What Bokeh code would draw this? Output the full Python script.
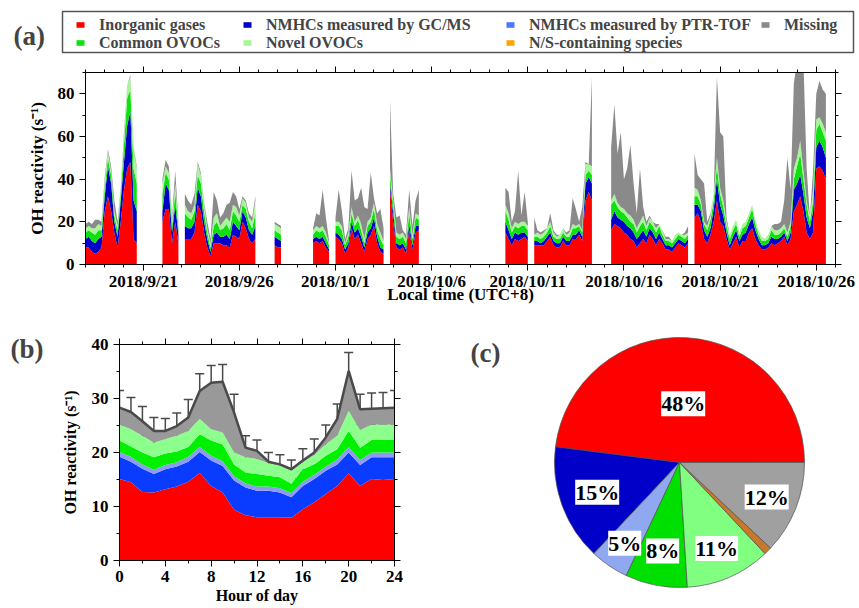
import numpy as np
import pandas as pd
from bokeh.plotting import figure
from bokeh.layouts import column, row
from bokeh.models import (ColumnDataSource, Range1d, LinearAxis, FixedTicker,
                          Legend, LegendItem, Label, LabelSet, Whisker, TeeHead)
from bokeh.transform import cumsum
from bokeh.embed import file_html
from bokeh.resources import INLINE

_ = None
START = pd.Timestamp("2018-09-18 00:00")
SAMPLES_PER_DAY = 6  # 4-hourly values

# ---------------------------------------------------------------------------
# (a) time series: cumulative OH reactivity (s-1), one row per day (00,04,...,20 h)
# ---------------------------------------------------------------------------
lvl_inorganic = [
    8, 8, 6, 5, 6, 8,          # 9/18
    25, 32, 25, 15, 8, 20,     # 9/19
    35, 45, 48, 12, 10, _,     # 9/20
    _, _, _, _, _, _,          # 9/21
    20, 26, 26, 10, 20, 10,    # 9/22
    _, 12, 12, 12, 15, 28,     # 9/23
    25, 15, 8, 4, 10, 10,      # 9/24
    10, 9, 9, 8, 14, 13,       # 9/25
    12, 20, 17, 12, 10, 12,    # 9/26
    _, _, _, _, _, 9,          # 9/27
    8, 8, _, _, _, _,          # 9/28
    _, _, _, _, _, 10,         # 9/29
    11, 10, 11, 8, 6, _,       # 9/30
    13, 12, 10, 5, 8, 17,      # 10/1
    12, 14, 10, 6, 12, 14,     # 10/2
    18, 10, 6, 5, _, 35,       # 10/3
    20, 8, 7, 8, 5, 16,        # 10/4
    7, 15, 16, _, _, _,        # 10/5
    _, _, _, _, _, _,          # 10/6
    _, _, _, _, _, _,          # 10/7
    _, _, _, _, _, _,          # 10/8
    _, _, _, _, _, 15,         # 10/9
    12, 9, 12, 11, 12, 13,     # 10/10
    11, _, 9, 9, 9, 9,         # 10/11
    11, 13, 9, 8, 8, 11,       # 10/12
    9, 9, 12, 12, 14, 11,      # 10/13
    30, 34, 30, _, _, _,       # 10/14
    _, _, 16, 19, 18, 17,      # 10/15
    15, 14, 12, 11, 8, 10,     # 10/16
    12, 10, 14, 12, 9, 12,     # 10/17
    10, 7, 7, 6, 8, 10,        # 10/18
    9, 8, 10, _, 22, 24,       # 10/19
    20, 12, 10, 14, 20, 30,    # 10/20
    20, 18, 12, 7, 10, 13,     # 10/21
    8, 11, 11, 15, 17, 12,     # 10/22
    9, 7, 7, 8, 10, 9,         # 10/23
    10, 11, 13, 9, 12, 25,     # 10/24
    28, 32, 25, 15, 12, 15,    # 10/25
    45, 46, 44, 40, _, _,      # 10/26
]

lvl_nmhc = [
    12, 13, 11, 10, 12, 13,
    32, 46, 38, 20, 13, 30,
    48, 65, 72, 30, 25, _,
    _, _, _, _, _, _,
    25, 38, 35, 15, 28, 14,
    _, 18, 17, 17, 20, 36,
    32, 20, 12, 6, 14, 15,
    13, 13, 14, 12, 20, 18,
    16, 25, 22, 16, 14, 18,
    _, _, _, _, _, 13,
    12, 11, _, _, _, _,
    _, _, _, _, _, 12,
    13, 12, 13, 10, 7, _,
    15, 14, 12, 7, 10, 20,
    15, 17, 13, 8, 15, 17,
    22, 13, 8, 7, _, 38,
    24, 10, 9, 10, 7, 19,
    9, 18, 18, _, _, _,
    _, _, _, _, _, _,
    _, _, _, _, _, _,
    _, _, _, _, _, _,
    _, _, _, _, _, 20,
    16, 12, 15, 14, 15, 15,
    13, _, 11, 11, 10, 11,
    13, 15, 11, 10, 10, 13,
    11, 11, 14, 14, 16, 13,
    38, 41, 38, _, _, _,
    _, _, 21, 25, 22, 21,
    20, 18, 17, 15, 12, 14,
    16, 13, 17, 15, 12, 15,
    12, 9, 9, 8, 10, 12,
    11, 10, 12, _, 28, 28,
    25, 16, 13, 17, 26, 40,
    28, 23, 15, 9, 13, 16,
    11, 14, 15, 19, 22, 16,
    12, 9, 9, 10, 13, 12,
    12, 13, 15, 11, 15, 35,
    38, 42, 33, 22, 17, 25,
    55, 58, 55, 50, _, _,
]

lvl_ovoc_common = [
    15, 16, 15, 14, 16, 16,
    36, 50, 42, 23, 16, 33,
    56, 78, 82, 45, 38, _,
    _, _, _, _, _, _,
    33, 43, 40, 18, 34, 17,
    _, 24, 22, 21, 25, 42,
    38, 25, 15, 8, 18, 20,
    16, 17, 19, 16, 25, 23,
    20, 28, 26, 20, 17, 24,
    _, _, _, _, _, 16,
    15, 14, _, _, _, _,
    _, _, _, _, _, 14,
    16, 15, 16, 13, 9, _,
    18, 18, 16, 9, 13, 24,
    18, 21, 16, 10, 18, 20,
    26, 16, 12, 9, _, 42,
    28, 13, 12, 13, 10, 24,
    12, 22, 21, _, _, _,
    _, _, _, _, _, _,
    _, _, _, _, _, _,
    _, _, _, _, _, _,
    _, _, _, _, _, 25,
    21, 15, 18, 17, 18, 18,
    16, _, 13, 13, 12, 13,
    15, 18, 13, 12, 12, 15,
    13, 13, 17, 17, 18, 15,
    42, 44, 42, _, _, _,
    _, _, 28, 30, 27, 25,
    24, 22, 20, 19, 15, 18,
    20, 16, 20, 18, 15, 18,
    14, 11, 11, 10, 12, 14,
    13, 12, 14, _, 32, 32,
    28, 19, 16, 21, 30, 46,
    33, 27, 18, 12, 16, 19,
    13, 17, 18, 22, 26, 19,
    14, 11, 11, 12, 16, 14,
    14, 15, 17, 13, 18, 40,
    46, 52, 40, 28, 20, 30,
    63, 66, 62, 58, _, _,
]

lvl_ovoc_novel = [
    17, 18, 17, 17, 19, 18,
    39, 53, 44, 25, 18, 35,
    60, 84, 88, 54, 45, _,
    _, _, _, _, _, _,
    38, 46, 43, 20, 38, 19,
    _, 28, 25, 24, 28, 47,
    42, 28, 17, 10, 22, 24,
    18, 20, 22, 20, 28, 27,
    23, 31, 29, 22, 20, 30,
    _, _, _, _, _, 19,
    18, 17, _, _, _, _,
    _, _, _, _, _, 16,
    18, 17, 18, 15, 10, _,
    20, 20, 18, 10, 15, 27,
    20, 23, 19, 12, 20, 22,
    29, 19, 15, 11, _, 45,
    30, 15, 14, 15, 12, 27,
    14, 24, 23, _, _, _,
    _, _, _, _, _, _,
    _, _, _, _, _, _,
    _, _, _, _, _, _,
    _, _, _, _, _, 28,
    24, 17, 20, 19, 20, 20,
    18, _, 14, 15, 14, 15,
    17, 20, 15, 13, 14, 17,
    14, 15, 19, 18, 19, 16,
    47, 47, 46, _, _, _,
    _, _, 30, 33, 29, 27,
    26, 24, 23, 21, 17, 20,
    23, 18, 22, 20, 17, 19,
    16, 12, 12, 11, 14, 15,
    14, 14, 15, _, 36, 35,
    30, 20, 18, 23, 33, 50,
    36, 30, 20, 14, 18, 21,
    15, 19, 20, 24, 28, 21,
    16, 13, 12, 14, 18, 16,
    16, 17, 19, 15, 20, 45,
    50, 58, 44, 30, 22, 35,
    68, 69, 66, 62, _, _,
]

lvl_total = [
    19, 20, 19, 21, 21, 20,
    41, 54, 46, 30, 20, 36,
    62, 84, 89, 55, 46, _,
    _, _, _, _, _, _,
    40, 49, 46, 22, 44, 20,
    _, 33, 30, 28, 33, 48,
    43, 29, 20, 12, 34, 30,
    22, 24, 28, 29, 34, 32,
    26, 32, 30, 24, 22, 32,
    _, _, _, _, _, 20,
    19, 18, _, _, _, _,
    _, _, _, _, _, 17,
    24, 23, 35, 22, 11, _,
    22, 35, 25, 12, 17, 44,
    30, 31, 36, 27, 26, 43,
    31, 24, 26, 17, _, 77,
    33, 22, 23, 16, 14, 35,
    18, 30, 35, _, _, _,
    _, _, _, _, _, _,
    _, _, _, _, _, _,
    _, _, _, _, _, _,
    _, _, _, _, _, 36,
    34, 20, 25, 44, 23, 34,
    20, _, 22, 16, 15, 16,
    17, 24, 16, 14, 14, 17,
    15, 16, 31, 26, 20, 27,
    48, 47, 88, _, _, _,
    _, _, 55, 75, 52, 62,
    40, 45, 56, 38, 24, 45,
    27, 20, 23, 20, 19, 19,
    16, 13, 13, 11, 14, 15,
    14, 15, 18, _, 52, 42,
    40, 38, 20, 24, 33, 88,
    62, 60, 22, 14, 18, 21,
    15, 19, 20, 24, 28, 21,
    16, 13, 12, 14, 18, 19,
    19, 20, 30, 50, 35, 85,
    95, 95, 95, 45, 22, 44,
    80, 86, 82, 80, _, _,
]

date_ticks = ["2018-09-21", "2018-09-26", "2018-10-01", "2018-10-06",
              "2018-10-11", "2018-10-16", "2018-10-21", "2018-10-26"]
date_tick_labels = ["2018/9/21", "2018/9/26", "2018/10/1", "2018/10/6",
                    "2018/10/11", "2018/10/16", "2018/10/21", "2018/10/26"]

# ---------------------------------------------------------------------------
# (b) mean diurnal profile, cumulative levels (s-1)
# ---------------------------------------------------------------------------
hours = list(range(25))
hod_inorganic = [15.1, 14.5, 12.7, 12.6, 13.2, 13.7, 14.6, 16.2, 13.8, 12.6, 9.4, 8.4, 8.0,
                 8.0, 8.0, 7.9, 9.5, 10.8, 12.3, 13.8, 16.1, 13.8, 15.1, 14.9, 15.1]
hod_gcms = [19.2, 18.3, 17.0, 16.0, 16.9, 17.4, 18.3, 20.1, 18.5, 17.5, 14.8, 13.5, 12.9,
            12.9, 12.6, 11.7, 13.8, 15.1, 16.6, 17.8, 20.0, 17.7, 19.1, 19.1, 19.1]
hod_ptr = [20.1, 19.2, 17.8, 16.8, 17.7, 18.2, 19.2, 21.0, 19.4, 18.4, 15.6, 14.3, 13.7,
           13.7, 13.4, 12.5, 14.6, 15.9, 17.4, 18.7, 21.0, 18.6, 20.0, 20.0, 20.0]
hod_common = [22.2, 21.1, 20.0, 19.1, 19.8, 20.2, 21.0, 23.4, 22.2, 21.5, 17.8, 16.3, 16.0,
              15.7, 15.4, 14.2, 16.9, 17.8, 19.4, 20.6, 24.0, 20.9, 22.3, 22.3, 22.3]
hod_novel = [25.2, 24.3, 23.1, 21.8, 22.5, 23.1, 24.0, 26.2, 24.3, 23.7, 20.0, 19.1, 18.8,
             18.0, 17.6, 16.7, 18.2, 19.6, 21.5, 23.1, 27.7, 24.1, 25.2, 25.2, 25.2]
hod_total = [28.3, 27.5, 25.8, 24.0, 24.0, 24.9, 26.5, 31.4, 32.9, 33.1, 27.4, 20.9, 20.3,
             18.3, 17.8, 16.9, 18.5, 20.0, 22.8, 26.2, 35.1, 28.0, 28.1, 28.2, 28.3]
hod_total_sd = [3.2, 2.7, 2.7, 2.5, 2.3, 2.4, 3.3, 3.2, 3.2, 3.2, 3.4, 2.2, 2.0,
                1.7, 1.8, 1.7, 2.2, 2.5, 2.3, 2.8, 3.4, 2.8, 2.9, 2.9, 3.2]

# ---------------------------------------------------------------------------
# (c) campaign-average contributions (%)
# ---------------------------------------------------------------------------
pie_groups = ["Inorganic gases", "NMHCs measured by GC/MS", "NMHCs measured by PTR-TOF",
              "Common OVOCs", "Novel OVOCs", "N/S-containing species", "Missing"]
pie_percent = [48, 15, 5, 8, 11, 1, 12]

# ---------------------------------------------------------------------------
FONT = "Liberation Serif"
C_RED = "#FF0000"
C_GCMS = "#0000C8"
C_PTR = "#4A78FF"
C_COMMON = "#10E010"
C_NOVEL = "#A8F59A"
C_NS = "#FFA500"
C_MISS = "#8A8A8A"


def style_axis(ax, size="17px", title_size="17px"):
    ax.major_label_text_font = FONT
    ax.major_label_text_font_style = "bold"
    ax.major_label_text_font_size = size
    ax.major_label_text_color = "black"
    ax.axis_label_text_font = FONT
    ax.axis_label_text_font_style = "bold"
    ax.axis_label_text_font_size = title_size
    ax.axis_label_text_color = "black"
    ax.axis_line_color = "black"
    ax.axis_line_width = 1
    ax.major_tick_line_color = "black"
    ax.minor_tick_line_color = "black"
    ax.major_tick_in = 0
    ax.major_tick_out = 6
    ax.minor_tick_in = 0
    ax.minor_tick_out = 3


def mirror_axis(ticker):
    ax = LinearAxis(ticker=ticker)
    style_axis(ax)
    ax.major_label_text_font_size = "0px"
    ax.major_label_text_color = None
    ax.major_label_standoff = 0
    return ax


def blank_figure(w, h, xr, yr):
    f = figure(width=w, height=h, x_range=xr, y_range=yr, output_backend="svg",
               toolbar_location=None, min_border_left=0, min_border_right=0,
               min_border_top=0, min_border_bottom=0)
    f.axis.visible = False
    f.grid.visible = False
    f.outline_line_color = None
    f.frame_align = False
    return f


# ----------------------------- header: (a) tag + legend --------------------
hdr = blank_figure(859, 60, Range1d(0, 859), Range1d(60, 0))
hdr.add_layout(Label(x=13, y=35, text="(a)", text_font=FONT, text_font_style="bold",
                     text_font_size="27px", text_baseline="middle", text_align="left"))
hdr.quad(left=62, right=853, top=11, bottom=52, fill_color=None,
         line_color="#555555", line_width=1.5)

legend_cols = [
    [("Inorganic gases", C_RED), ("Common OVOCs", C_COMMON)],
    [("NMHCs measured by GC/MS", C_GCMS), ("Novel OVOCs", C_NOVEL)],
    [("NMHCs measured by PTR-TOF", C_PTR), ("N/S-containing species", C_NS)],
    [("Missing", C_MISS)],
]
legend_x = [75, 242, 505, 760]
for col_items, lx0 in zip(legend_cols, legend_x):
    items = []
    for name, colr in col_items:
        # zero-height swatch renderer, only used for the legend key
        r = hdr.varea(x=[0, 1], y1=[0, 0], y2=[0, 0], fill_color=colr)
        items.append(LegendItem(label=name, renderers=[r]))
    lg = Legend(items=items, orientation="vertical", location=(lx0, 60 - 15.5 - 18 * len(items)))
    lg.label_text_font = FONT
    lg.label_text_font_style = "bold"
    lg.label_text_font_size = "16px"
    lg.label_height = 18
    lg.glyph_width = 10
    lg.glyph_height = 7
    lg.label_standoff = 14
    lg.padding = 0
    lg.spacing = 0
    lg.margin = 0
    lg.border_line_color = None
    lg.background_fill_alpha = 0
    hdr.add_layout(lg, "center")

# ----------------------------- panel (a) -----------------------------------
n = len(lvl_total)
t_days = np.arange(n) / SAMPLES_PER_DAY
inorg = np.array(lvl_inorganic, dtype=float)
nmhc = np.array(lvl_nmhc, dtype=float)
ovc = np.array(lvl_ovoc_common, dtype=float)
ovn = np.array(lvl_ovoc_novel, dtype=float)
tot = np.array(lvl_total, dtype=float)

n_days = 39
pa = figure(width=859, height=246, x_range=Range1d(0, n_days), y_range=Range1d(0, 90),
            output_backend="svg", toolbar_location=None,
            min_border_left=85, min_border_right=24, min_border_top=12, min_border_bottom=38)
pa.grid.visible = False
pa.outline_line_color = "black"
pa.frame_align = False

layers_a = [
    (np.zeros(n), inorg, C_RED),
    (inorg, nmhc, C_GCMS),
    (nmhc, ovc, C_COMMON),
    (ovc, ovn, C_NOVEL),
    (ovn, tot, C_MISS),
]
valid = ~np.isnan(tot)
runs = []
i = 0
while i < n:
    if valid[i]:
        j = i
        while j < n and valid[j]:
            j += 1
        runs.append((i, j))
        i = j
    else:
        i += 1

for (a, b) in runs:
    for lo, hi, col in layers_a:
        src = ColumnDataSource(dict(x=t_days[a:b], y1=lo[a:b], y2=hi[a:b]))
        pa.varea(x="x", y1="y1", y2="y2", source=src, fill_color=col)

tick_pos = [int((pd.Timestamp(d) - START) / pd.Timedelta(days=1)) for d in date_ticks]
x_ticker = FixedTicker(ticks=tick_pos, minor_ticks=list(range(0, n_days + 1)))
y_ticker = FixedTicker(ticks=[0, 20, 40, 60, 80], minor_ticks=[10, 30, 50, 70, 90])

pa.xaxis.ticker = x_ticker
pa.xaxis.major_label_overrides = {p: l for p, l in zip(tick_pos, date_tick_labels)}
pa.xaxis.axis_label = "Local time (UTC+8)"
pa.yaxis.ticker = y_ticker
pa.yaxis.axis_label = "OH reactivity (s\u207b\u00b9)"
for ax in pa.xaxis + pa.yaxis:
    style_axis(ax)
pa.xaxis.major_label_standoff = 1
pa.xaxis.axis_label_standoff = -9
pa.yaxis.axis_label_standoff = 8
pa.add_layout(mirror_axis(x_ticker), "above")
pa.add_layout(mirror_axis(y_ticker), "right")

# ----------------------------- panel (b) -----------------------------------
tag_b = blank_figure(55, 302, Range1d(0, 55), Range1d(302, 0))
tag_b.add_layout(Label(x=10, y=42, text="(b)", text_font=FONT, text_font_style="bold",
                       text_font_size="27px", text_baseline="middle", text_align="left"))

pb = figure(width=385, height=302, x_range=Range1d(0, 24), y_range=Range1d(0, 40),
            output_backend="svg", toolbar_location=None,
            min_border_left=64, min_border_right=46, min_border_top=38, min_border_bottom=48)
pb.grid.visible = False
pb.outline_line_color = "black"
pb.frame_align = False

zero = [0.0] * len(hours)
layers_b = [
    (zero, hod_inorganic, "#FF0000"),
    (hod_inorganic, hod_gcms, "#0A3CFF"),
    (hod_gcms, hod_ptr, "#8C9CF2"),
    (hod_ptr, hod_common, "#00F000"),
    (hod_common, hod_novel, "#8CFF8C"),
    (hod_novel, hod_total, "#999999"),
]
for lo, hi, col in layers_b:
    pb.varea(x=hours, y1=lo, y2=hi, fill_color=col)

pb.line(hours, hod_total, line_color="#4A4A4A", line_width=2.5)
err_src = ColumnDataSource(dict(
    h=hours,
    up=[t + s for t, s in zip(hod_total, hod_total_sd)],
    lo=[t - s for t, s in zip(hod_total, hod_total_sd)],
))
pb.add_layout(Whisker(source=err_src, base="h", upper="up", lower="lo",
                      line_color="#4A4A4A", line_width=1.5,
                      upper_head=TeeHead(size=9, line_color="#4A4A4A", line_width=1.5),
                      lower_head=TeeHead(size=9, line_color="#4A4A4A", line_width=1.5)))

hx_ticker = FixedTicker(ticks=[0, 4, 8, 12, 16, 20, 24], minor_ticks=list(range(0, 25, 2)))
hy_ticker = FixedTicker(ticks=[0, 10, 20, 30, 40], minor_ticks=[5, 15, 25, 35])
pb.xaxis.ticker = hx_ticker
pb.yaxis.ticker = hy_ticker
pb.xaxis.axis_label = "Hour of day"
pb.yaxis.axis_label = "OH reactivity (s\u207b\u00b9)"
for ax in pb.xaxis + pb.yaxis:
    style_axis(ax, size="17px", title_size="16px")
pb.xaxis.axis_label_standoff = 2
pb.xaxis.major_label_standoff = 4
pb.yaxis.axis_label_standoff = 10
pb.add_layout(mirror_axis(hx_ticker), "above")
pb.add_layout(mirror_axis(hy_ticker), "right")

# ----------------------------- panel (c) -----------------------------------
pc = blank_figure(419, 302, Range1d(-239, 180), Range1d(-146, 156))

pie_colors = ["#FF0000", "#0000C8", "#8FA8F0", "#00E000", "#80FF80", "#C87828", "#A0A0A0"]
pie_angle = [v / sum(pie_percent) * 2 * np.pi for v in pie_percent]
pie_src = ColumnDataSource(dict(group=pie_groups, pct=pie_percent, angle=pie_angle,
                                color=pie_colors))
R = 125
pc.wedge(x=0, y=0, radius=R, start_angle=cumsum("angle", include_zero=True),
         end_angle=cumsum("angle"), fill_color="color", line_color="#505050",
         line_width=0.7, source=pie_src)

# label placement (fraction of radius) for each labelled slice
label_r = [0.47, 0.70, 0.78, 0.72, 0.75, None, 0.75]
starts = np.concatenate([[0], np.cumsum(pie_angle)[:-1]])
mids = starts + np.array(pie_angle) / 2
lx, ly, lt = [], [], []
for m, fr, v in zip(mids, label_r, pie_percent):
    if fr is None:
        continue
    lx.append(fr * R * np.cos(m))
    ly.append(fr * R * np.sin(m))
    lt.append(f"{v}%")
pc.add_layout(LabelSet(x="x", y="y", text="t", source=ColumnDataSource(dict(x=lx, y=ly, t=lt)),
                       text_font=FONT, text_font_style="bold", text_font_size="22px",
                       text_align="center", text_baseline="middle", text_color="black",
                       background_fill_color="white"))

pc.add_layout(Label(x=-209, y=110, text="(c)", text_font=FONT, text_font_style="bold",
                    text_font_size="27px", text_baseline="middle", text_align="left"))

layout = column(hdr, pa, row(tag_b, pb, pc, spacing=0), spacing=0)
open("out.html", "w").write(file_html(layout, INLINE))
